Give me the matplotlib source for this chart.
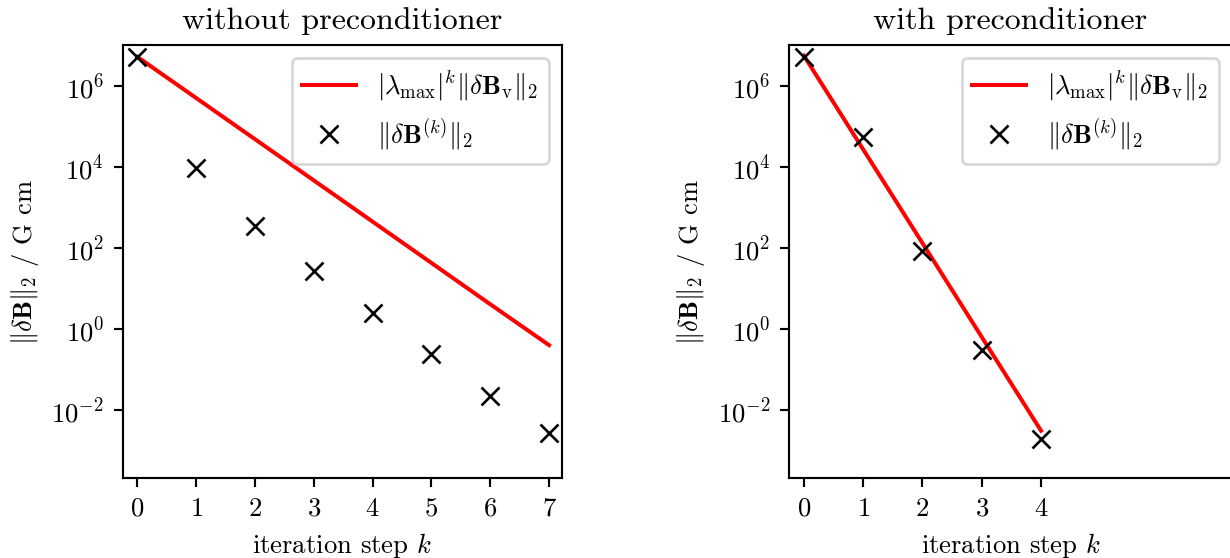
import numpy as np
import matplotlib
matplotlib.use("Agg")
import matplotlib.pyplot as plt
from matplotlib.ticker import NullLocator

plt.rcParams["font.family"] = "serif"
plt.rcParams["font.serif"] = ["cmr10"]
plt.rcParams["mathtext.fontset"] = "cm"
plt.rcParams["axes.formatter.use_mathtext"] = True
plt.rcParams["axes.unicode_minus"] = False

# residual norms per iteration step
k_plain = [0, 1, 2, 3, 4, 5, 6, 7]
res_plain = [5.2e6, 9.3e3, 3.4e2, 27.0, 2.4, 0.23, 0.022, 0.0026]
# |lambda_max|^k * ||dB_v||_2 estimate
bound_plain = [5.2e6, 5.0e5, 4.8e4, 4.6e3, 4.4e2, 42.0, 4.0, 0.39]

k_prec = [0, 1, 2, 3, 4]
res_prec = [5.2e6, 5.6e4, 81.0, 0.30, 0.0019]
bound_prec = [5.6e6, 2.7e4, 1.3e2, 0.62, 0.0030]

lab_bound = r"$|\lambda_\mathrm{max}|^k\Vert\delta\mathbf{B}_\mathrm{v}\Vert_2$"
lab_res = r"$\Vert\delta\mathbf{B}^{(k)}\Vert_2$"
ylab = r"$\Vert\delta\mathbf{B}\Vert_2$ / G cm"

W, H = 1230, 558
dpi = 192
fig = plt.figure(figsize=(W/dpi, H/dpi), dpi=dpi)
ax1 = fig.add_axes([122.7/W, 79.7/H, 439.3/W, 433.3/H])
ax2 = fig.add_axes([789/W, 79.7/H, 443/W, 433.3/H])

for ax, k, res, bound, title, xmax in [
        (ax1, k_plain, res_plain, bound_plain, "without preconditioner", 7.22),
        (ax2, k_prec, res_prec, bound_prec, "with preconditioner", 7.22)]:
    ax.plot(k, bound, color="red", lw=1.5, label=lab_bound)
    ax.plot(k, res, "kx", ms=6.5, mew=1.0, label=lab_res)
    ax.set_yscale("log")
    ax.set_ylim(10**-3.7, 10**7.01)
    ax.set_xlim(-0.25, xmax)
    ax.set_yticks([1e-2, 1e0, 1e2, 1e4, 1e6])
    ax.yaxis.set_minor_locator(NullLocator())
    ax.set_xticks(k)
    ax.set_xlabel(r"iteration step $k$")
    ax.set_ylabel(ylab)
    ax.set_title(title)
    ax.legend(loc="upper right")

fig.savefig("out.png", dpi=dpi)
